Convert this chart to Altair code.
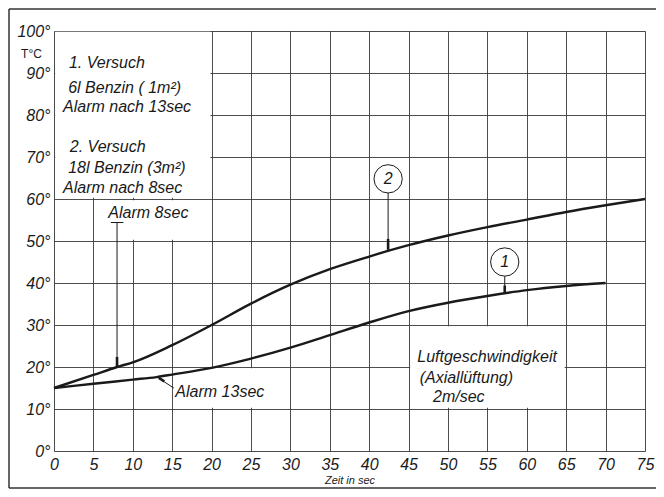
import altair as alt
import pandas as pd

# ---- data ----
x_ticks = list(range(0, 80, 5))
y_ticks = list(range(0, 110, 10))

c2_time = [0, 5, 8, 10, 15, 20, 25, 30, 35, 40, 45, 50, 55, 60, 65, 70, 75]
c2_temp = [15, 18.1, 20, 21.1, 25.2, 30, 35.1, 39.6, 43.3, 46.3, 49.0, 51.3, 53.3, 55.1, 56.9, 58.5, 60]

c1_time = [0, 5, 10, 13, 15, 20, 25, 30, 35, 40, 45, 50, 55, 60, 65, 70]
c1_temp = [15, 16.0, 17.0, 17.6, 18.2, 19.8, 22.0, 24.6, 27.6, 30.6, 33.3, 35.3, 36.9, 38.3, 39.3, 40]

circle_x = [57.2, 42.4]
circle_y = [45.0, 64.8]
circle_lab = ["1", "2"]

note_text = ["1. Versuch", "6l Benzin ( 1m²)", "Alarm nach 13sec",
             "2. Versuch", "18l Benzin (3m²)", "Alarm nach 8sec",
             "Alarm 8sec", "Alarm 13sec",
             "Luftgeschwindigkeit", "(Axiallüftung)", "2m/sec"]
note_x = [1.9, 1.8, 1.15, 2.0, 1.8, 1.15, 6.9, 15.4, 46.1, 46.4, 48.1]
note_y = [92.4, 86.4, 81.9, 72.4, 67.4, 62.6, 56.7, 14.0, 22.4, 17.4, 12.9]

# white boxes that interrupt the grid behind texts
box_x = [0.15, 5.2, 15.2, 45.2]
box_x2 = [19.85, 19.85, 29.8, 64.8]
box_y = [60.3, 50.3, 10.3, 10.3]
box_y2 = [99.8, 59.7, 19.7, 29.7]

# leader lines (thin) and their arrow heads (thick)
thin_x = [8.0, 7.2, 42.4, 57.2, 13.3]
thin_x2 = [8.0, 8.8, 42.4, 57.2, 15.2]
thin_y = [54.4, 54.4, 61.5, 41.7, 17.3]
thin_y2 = [20.3, 54.4, 48.0, 37.7, 15.0]

thick_x = [8.0, 42.4, 57.2, 13.3]
thick_x2 = [8.0, 42.4, 57.2, 14.0]
thick_y = [22.4, 50.5, 39.4, 17.4]
thick_y2 = [20.0, 47.9, 37.6, 16.6]

# ---- tables ----
curves = pd.concat([
    pd.DataFrame({"t": c1_time, "T": c1_temp, "k": "1"}),
    pd.DataFrame({"t": c2_time, "T": c2_temp, "k": "2"}),
])
circles = pd.DataFrame({"x": circle_x, "y": circle_y, "lab": circle_lab})
notes = pd.DataFrame({"x": note_x, "y": note_y, "txt": note_text})
boxes = pd.DataFrame({"x": box_x, "x2": box_x2, "y": box_y, "y2": box_y2})
thin = pd.DataFrame({"x": thin_x, "x2": thin_x2, "y": thin_y, "y2": thin_y2})
thick = pd.DataFrame({"x": thick_x, "x2": thick_x2, "y": thick_y, "y2": thick_y2})

FONT = "Liberation Sans"
INK = "#1a1a1a"

xs = alt.Scale(domain=[0, 75], nice=False, zero=False)
ys = alt.Scale(domain=[0, 100], nice=False)

x_axis = alt.Axis(values=x_ticks, tickCount=16, grid=True, gridColor="#3a3a3a", gridWidth=0.9,
                  domain=False, ticks=False, labelFont=FONT, labelFontStyle="italic",
                  labelFontSize=16, labelPadding=5, labelColor=INK, labelFlush=False,
                  labelOverlap=False,
                  title="Zeit in sec", titleFont=FONT, titleFontStyle="italic",
                  titleFontSize=11, titleFontWeight="normal", titleColor=INK,
                  titlePadding=2)
y_axis = alt.Axis(values=y_ticks, tickCount=11, grid=True, gridColor="#3a3a3a", gridWidth=0.9,
                  domain=False, ticks=False, labelFont=FONT, labelFontStyle="italic",
                  labelFontSize=16, labelPadding=4, labelColor=INK, labelFlush=False,
                  labelOverlap=False,
                  labelExpr="datum.value + '°'", labelBaseline="middle",
                  title="T°C", titleAngle=0, titleX=-23, titleY=22,
                  titleAlign="center", titleBaseline="middle", titleFont=FONT,
                  titleFontSize=12, titleFontWeight="normal", titleColor=INK)


def X(field):
    return alt.X(field, scale=xs, axis=x_axis)


def Y(field):
    return alt.Y(field, scale=ys, axis=y_axis)


base_boxes = alt.Chart(boxes).mark_rect(fill="white", stroke=None).encode(
    x=X("x:Q"), x2="x2:Q", y=Y("y:Q"), y2="y2:Q")

lines = alt.Chart(curves).mark_line(color=INK, strokeWidth=2.4, interpolate="monotone").encode(
    x=X("t:Q"), y=Y("T:Q"), detail="k:N")

thin_rules = alt.Chart(thin).mark_rule(color=INK, strokeWidth=1).encode(
    x=X("x:Q"), x2="x2:Q", y=Y("y:Q"), y2="y2:Q")
thick_rules = alt.Chart(thick).mark_rule(color=INK, strokeWidth=2.6).encode(
    x=X("x:Q"), x2="x2:Q", y=Y("y:Q"), y2="y2:Q")

circ = alt.Chart(circles).mark_point(shape="circle", size=800, filled=False,
                                     fill="white", fillOpacity=1, stroke=INK,
                                     strokeWidth=1, opacity=1).encode(
    x=X("x:Q"), y=Y("y:Q"))
circ_txt = alt.Chart(circles).mark_text(font=FONT, fontStyle="italic", fontSize=16,
                                        color=INK).encode(
    x=X("x:Q"), y=Y("y:Q"), text="lab:N")

note_marks = alt.Chart(notes).mark_text(font=FONT, fontStyle="italic", fontSize=16,
                                        color=INK, align="left", baseline="middle").encode(
    x=X("x:Q"), y=Y("y:Q"), text="txt:N")

one = pd.DataFrame({"a": [0]})
frame_top = alt.Chart(one).mark_rule(color="#333", strokeWidth=1.5).encode(
    x=alt.value(-45), x2=alt.value(610), y=alt.value(-22))
frame_left = alt.Chart(one).mark_rule(color="#333", strokeWidth=1.5).encode(
    x=alt.value(-45), y=alt.value(-22), y2=alt.value(457))
frame_bottom = alt.Chart(one).mark_rule(color="#333", strokeWidth=1.5).encode(
    x=alt.value(-45), x2=alt.value(610), y=alt.value(457))

chart = alt.layer(base_boxes, lines, thin_rules, thick_rules, circ, circ_txt,
                  note_marks, frame_top, frame_left, frame_bottom).properties(
    width=591, height=420,
    autosize=alt.AutoSizeParams(type="none"),
    padding={"left": 46, "top": 23, "right": 11, "bottom": 38},
).configure_view(stroke=None).configure(background="white")

chart.save("out.html", embed_options={"renderer": "svg", "actions": False})
